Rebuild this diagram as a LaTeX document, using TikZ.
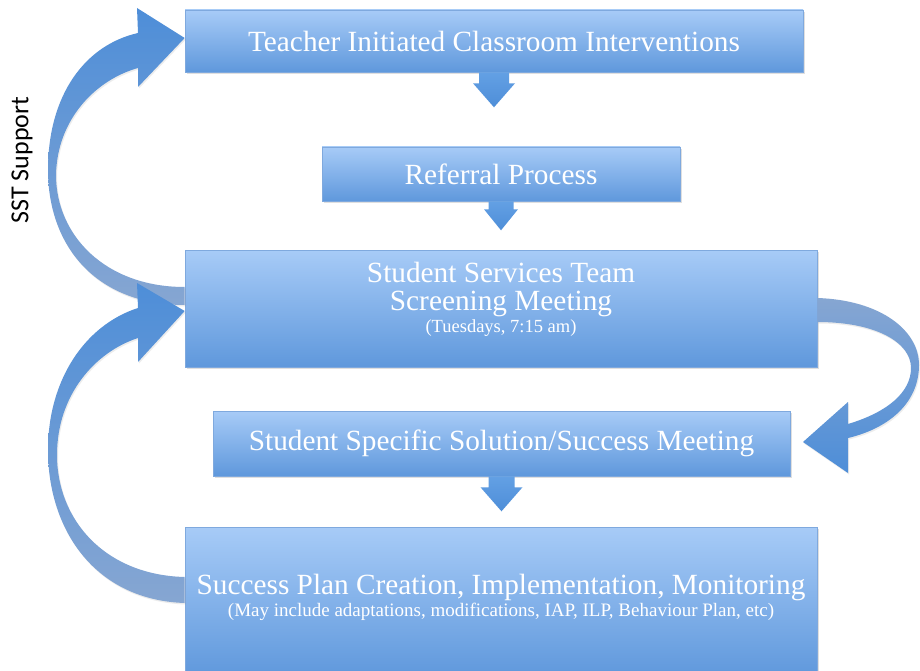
\documentclass[tikz,border=0pt]{standalone}
\usepackage{fontspec}
\setmainfont{Liberation Serif}
\newfontfamily\sstfont{Carlito}
\usetikzlibrary{shadows}
\definecolor{boxtop}{HTML}{A7CBF7}
\definecolor{boxbot}{HTML}{5F98DC}
\definecolor{boxedge}{HTML}{7FA9DE}
\definecolor{arrblue}{HTML}{4E8ED8}
\definecolor{arrlight}{HTML}{63A0E4}
\definecolor{arrgray}{HTML}{86A6D2}
\begin{document}
\begin{tikzpicture}[x=1pt,y=-1pt,
  box/.style={rectangle, draw=boxedge, line width=0.6pt, top color=boxtop, bottom color=boxbot,
    drop shadow={opacity=0.25, shadow xshift=1.5pt, shadow yshift=-2pt},
    text=white, align=center, inner sep=0pt},
  bigtxt/.style={text=white, inner sep=0pt, font=\fontsize{29.3}{33}\selectfont},
  smalltxt/.style={text=white, inner sep=0pt, font=\fontsize{19}{22}\selectfont},
  downarr/.style={top color=arrlight, bottom color=arrblue, draw=none},
  curvearr/.style={top color=arrblue, middle color=arrblue, bottom color=arrgray, draw=none,
    drop shadow={opacity=0.15, shadow xshift=1pt, shadow yshift=-1.5pt}},
  curvearrR/.style={top color=arrgray, middle color=arrgray!55!arrblue, bottom color=arrblue, draw=none,
    drop shadow={opacity=0.15, shadow xshift=1pt, shadow yshift=-1.5pt}}
]
\useasboundingbox[fill=white] (0,0) rectangle (920,671);

% boxes
\node[box, minimum width=618pt, minimum height=62pt, bigtxt] (b1) at (494,41) {Teacher Initiated Classroom Interventions};
\node[box, minimum width=358pt, minimum height=54pt, bigtxt] (b2) at (501,174) {Referral Process};
\node[box, minimum width=632pt, minimum height=117pt] (b3) at (501,308.5) {};
\node[box, minimum width=577pt, minimum height=65pt, bigtxt] (b4) at (501.5,443.5) {Student Specific Solution/Success Meeting};
\node[box, minimum width=632pt, minimum height=150pt] (b5) at (501,602) {};

\node[bigtxt] (t3a) at (501,272) {Student Services Team};
\node[bigtxt] (t3b) at (501,304) {Screening Meeting};
\node[smalltxt, font=\fontsize{18.5}{21}\selectfont] (t3c) at (501,328) {(Tuesdays, 7:15 am)};
\node[bigtxt] (t5a) at (501,587) {Success Plan Creation, Implementation, Monitoring};
\node[smalltxt] (t5b) at (501,612) {(May include adaptations, modifications, IAP, ILP, Behaviour Plan, etc)};

% straight down arrows
\shade[downarr] (b1.south) ++(-15,0) -- ++(30,0) -- ++(0,11) -- ++(6,0) -- ++(-21,24) -- ++(-21,-24) -- ++(6,0) -- cycle;
\shade[downarr] (b2.south) ++(-12.5,0) -- ++(25,0) -- ++(0,8) -- ++(4.5,0) -- ++(-17,21) -- ++(-17,-21) -- ++(4.5,0) -- cycle;
\shade[downarr] (b4.south) ++(-13,0) -- ++(26,0) -- ++(0,11) -- ++(8,0) -- ++(-21,24) -- ++(-21,-24) -- ++(8,0) -- cycle;

% SST support curved arrow (b3 -> b1)
\coordinate (u1) at (b3.west |- 0,287);
\coordinate (u2) at (b3.west |- 0,305);
\coordinate (utip) at (b1.west |- 0,38);
\shade[curvearr] (u1) -- (u2)
  .. controls (95,305) and (48,245) .. (48,170)
  .. controls (48,95) and (85,45) .. (138,33)
  -- (137,8) -- (utip) -- (138,87) -- (138,68)
  .. controls (95,80) and (57,120) .. (56,175)
  .. controls (56,235) and (105,287) .. (u1) -- cycle;

% lower curved arrow (b5 -> b3)
\coordinate (l1) at (b5.west |- 0,577);
\coordinate (l2) at (b5.west |- 0,603);
\coordinate (ltip) at (b3.west |- 0,311);
\shade[curvearr] (l1) -- (l2)
  .. controls (95,600) and (48,530) .. (48,450)
  .. controls (48,380) and (85,325) .. (138,308)
  -- (137,283) -- (ltip) -- (138,362) -- (138,338)
  .. controls (95,352) and (57,395) .. (57,455)
  .. controls (57,520) and (105,575) .. (l1) -- cycle;

% right curved arrow (b3 -> b4)
\coordinate (r1) at (b3.east |- 0,298);
\coordinate (r2) at (b3.east |- 0,322);
\coordinate (rtip) at (803,442);
\shade[curvearrR] (r1)
  .. controls (880,300) and (919,330) .. (919,365)
  .. controls (919,402) and (890,428) .. (848,438)
  -- (848,473) -- (rtip) -- (848,402) -- (848,424)
  .. controls (888,412) and (911,392) .. (911,368)
  .. controls (911,342) and (875,322) .. (r2) -- cycle;

% label
\node[rotate=90, font=\sstfont\fontsize{26}{30}\selectfont, inner sep=0pt] (sst) at (22,160) {SST Support};
\end{tikzpicture}
\end{document}
